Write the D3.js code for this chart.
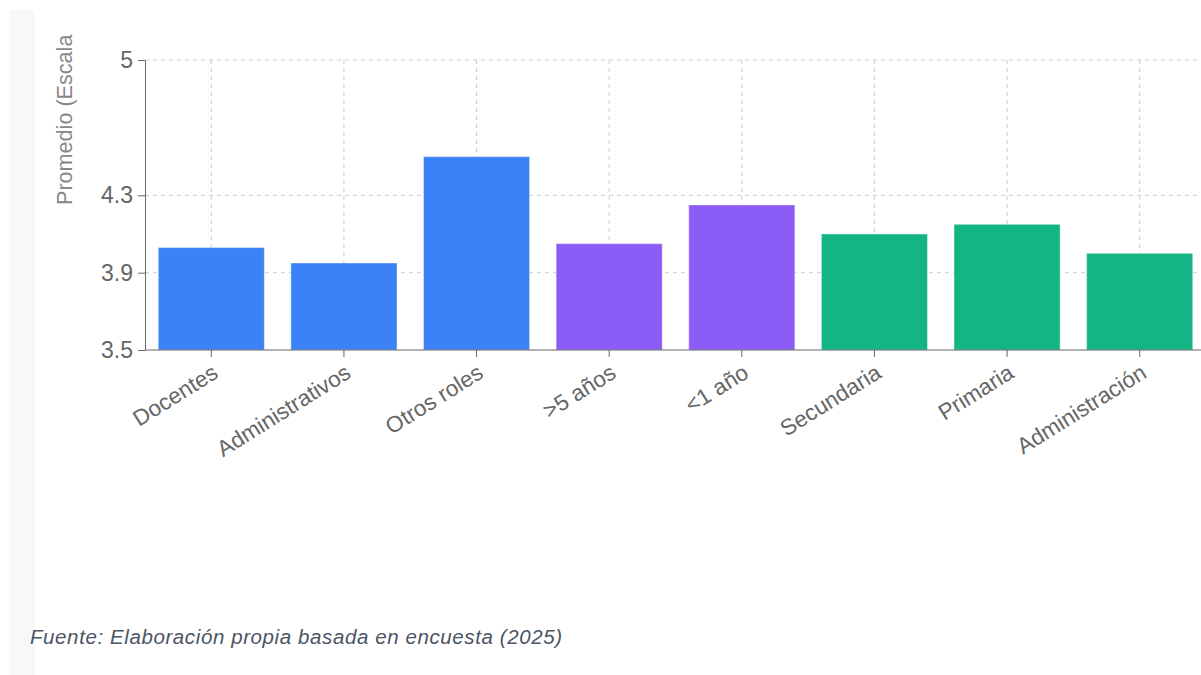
<!DOCTYPE html>
<html lang="es">
<head>
<meta charset="utf-8">
<title>Promedio por grupo</title>
<script src="https://d3js.org/d3.v7.min.js"></script>
<style>
  body { margin: 0; background: #fff; font-family: "Liberation Sans", Arial, sans-serif; }
  .strip { position: absolute; left: 10px; top: 10px; width: 25px; height: 665px; background: #f8f8f8; }
  svg { position: absolute; left: 0; top: 0; }
  .grid line { stroke: #cccccc; stroke-dasharray: 4 4; }
  .axis path, .axis line { stroke: #666; }
  .axis text { fill: #666; }
</style>
</head>
<body>
<div class="strip"></div>
<script>
// datos
var categorias = ["Docentes", "Administrativos", "Otros roles", ">5 años", "<1 año", "Secundaria", "Primaria", "Administración"];
var promedios = [4.03, 3.95, 4.50, 4.05, 4.25, 4.10, 4.15, 4.00];
var grupos = ["rol", "rol", "rol", "antig", "antig", "nivel", "nivel", "nivel"];
var yTicks = [3.5, 3.9, 4.3, 5];
var colores = { rol: "#3b82f6", antig: "#8b5cf6", nivel: "#14b584" };

var W = 1201, H = 675;
var m = { left: 145, top: 60, bottom: 350 };

var svg = d3.select("body").append("svg").attr("width", W).attr("height", H);

var x = d3.scaleBand().domain(categorias).range([m.left, 1206]).paddingInner(0.2).paddingOuter(0.1);
var y = d3.scaleLinear().domain([3.5, 5]).range([m.bottom, m.top]);

// rejilla
var grid = svg.append("g").attr("class", "grid");
grid.selectAll(".h").data(yTicks.slice(1)).enter().append("line")
  .attr("x1", m.left).attr("x2", W).attr("y1", y).attr("y2", y);
grid.selectAll(".v").data(categorias).enter().append("line")
  .attr("x1", function(d){ return x(d) + x.bandwidth()/2; })
  .attr("x2", function(d){ return x(d) + x.bandwidth()/2; })
  .attr("y1", m.top).attr("y2", m.bottom);

// barras
svg.selectAll(".bar").data(categorias).enter().append("rect")
  .attr("x", function(d){ return x(d); })
  .attr("width", x.bandwidth())
  .attr("y", function(d, i){ return y(promedios[i]); })
  .attr("height", function(d, i){ return y(3.5) - y(promedios[i]); })
  .attr("fill", function(d, i){ return colores[grupos[i]]; })
  .attr("stroke", "#ffffff").attr("stroke-opacity", 0.4);

// eje x
var gx = svg.append("g").attr("class", "axis")
  .attr("transform", "translate(0," + m.bottom + ")")
  .call(d3.axisBottom(x).tickSizeOuter(0).tickSize(7));
gx.select(".domain").attr("d", "M" + m.left + ",0H" + W);
gx.selectAll("text")
  .attr("font-size", 22.5).attr("font-family", "Liberation Sans, Arial, sans-serif")
  .attr("text-anchor", "end")
  .attr("x", -7).attr("y", 11).attr("dy", "0.71em")
  .attr("transform", "rotate(-32)");

// eje y
var gy = svg.append("g").attr("class", "axis")
  .attr("transform", "translate(" + m.left + ",0)")
  .call(d3.axisLeft(y).tickValues(yTicks).tickSize(7).tickSizeOuter(0).tickFormat(d3.format("")));
gy.selectAll("text").attr("font-size", 23).attr("font-family", "Liberation Sans, Arial, sans-serif").attr("dx", "-2");

// titulo eje y
svg.append("text")
  .attr("transform", "translate(72,205) rotate(-90)")
  .attr("text-anchor", "start")
  .attr("font-size", 21.6).attr("fill", "#888")
  .text("Promedio (Escala");

// fuente
svg.append("text")
  .attr("x", 30).attr("y", 644)
  .attr("font-size", 20.5).attr("letter-spacing", 0.6).attr("font-style", "italic").attr("fill", "#4b5563")
  .text("Fuente: Elaboración propia basada en encuesta (2025)");
</script>
</body>
</html>
